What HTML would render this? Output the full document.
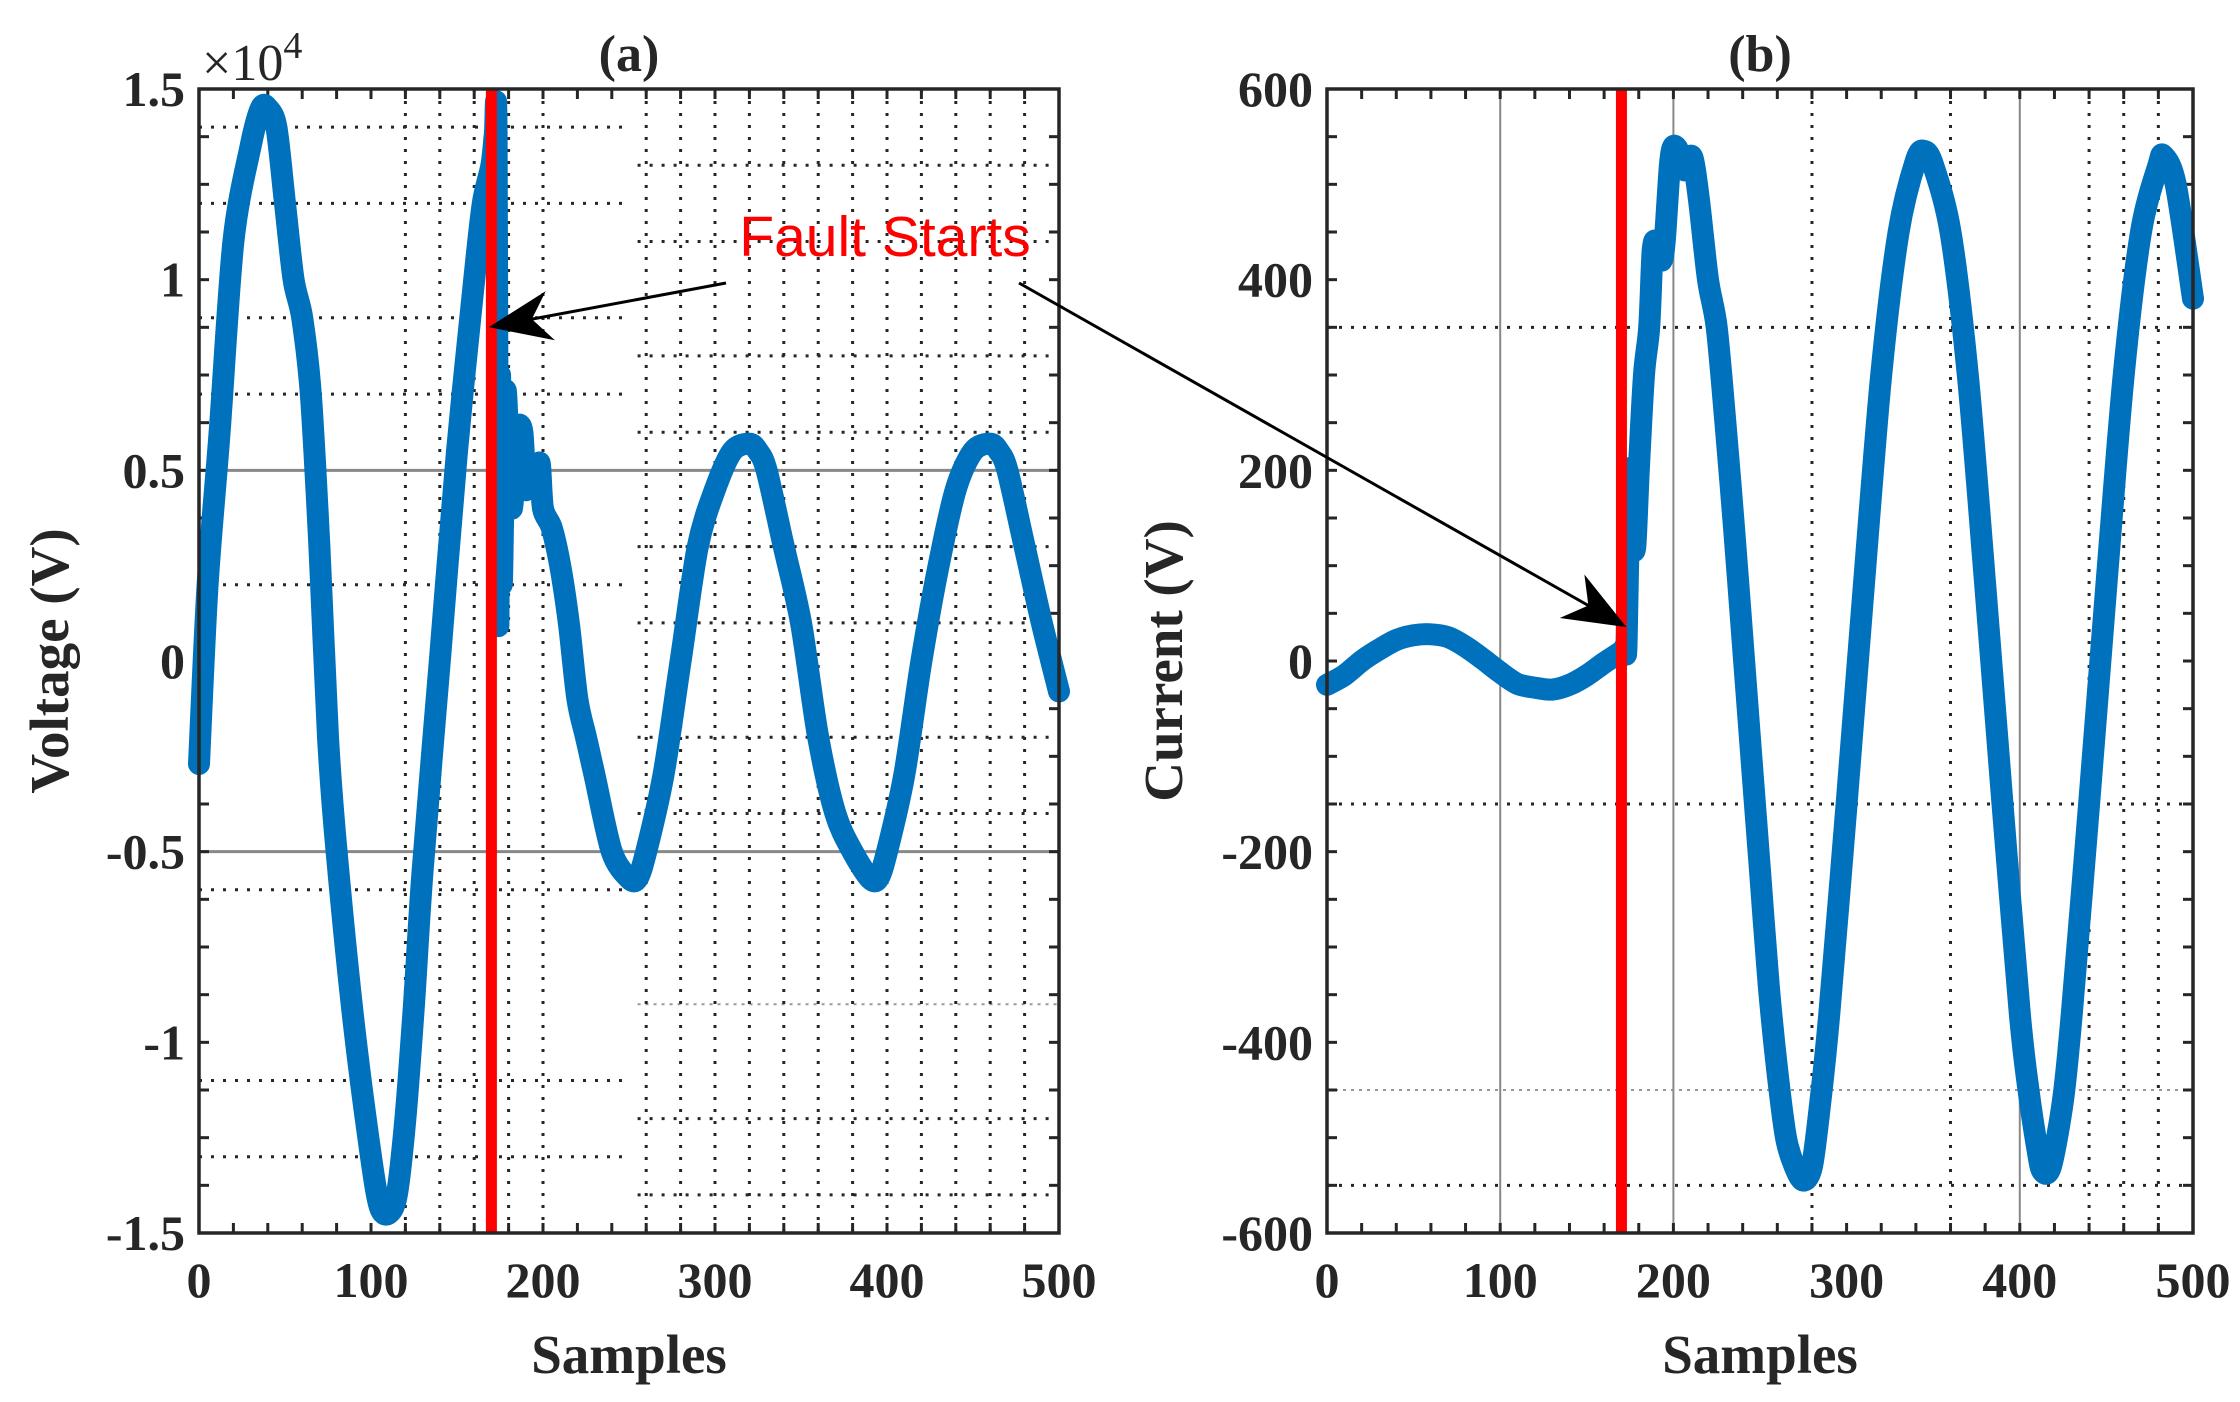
<!DOCTYPE html>
<html><head><meta charset="utf-8"><style>
html,body{margin:0;padding:0;background:#fff}
svg{display:block}
text{font-family:"Liberation Serif",serif;font-weight:bold;fill:#262626}
</style></head><body>
<svg id="chart" width="2240" height="1402" viewBox="0 0 2240 1402" xmlns="http://www.w3.org/2000/svg">
<g id="pa"></g>
<g id="pb"></g>
<g id="ann">
 <text x="885" y="256" text-anchor="middle" style="font-family:'Liberation Sans',sans-serif;font-weight:normal;font-size:57px;fill:#ff0000">Fault Starts</text>
</g>
</svg>
<script>
const NS="http://www.w3.org/2000/svg";
// Panel (a) voltage data (x1e4)
const vSamples=[0,5,12,20,30,36,40,45,50,55,60,65,70,75,80,90,100,105,110,115,120,125,130,140,150,160,165,170,172,173,174,175,176,178,180,182,185,188,190,192,195,198,200,205,210,215,220,225,230,240,250,255,260,270,280,290,300,310,320,325,330,340,350,360,370,380,390,395,400,410,420,430,440,450,460,465,470,480,490,500];
const vValues=[-0.27,0.2,0.6,1.1,1.35,1.45,1.45,1.4,1.2,1.0,0.9,0.7,0.3,-0.2,-0.5,-0.95,-1.3,-1.43,-1.45,-1.4,-1.2,-0.9,-0.55,0.0,0.55,1.0,1.2,1.3,1.38,1.38,0.1,0.75,0.2,0.7,0.55,0.4,0.6,0.6,0.45,0.5,0.45,0.52,0.4,0.35,0.25,0.1,-0.1,-0.2,-0.3,-0.5,-0.57,-0.57,-0.5,-0.3,0.0,0.3,0.45,0.55,0.57,0.55,0.5,0.3,0.1,-0.2,-0.4,-0.5,-0.57,-0.57,-0.5,-0.3,0.0,0.25,0.45,0.55,0.57,0.55,0.5,0.3,0.1,-0.08];
// Panel (b) current data
const cSamples=[0,10,20,30,40,50,60,70,80,90,100,110,120,130,140,150,160,170,172,173,175,176,178,180,183,186,188,190,193,195,198,200,203,205,207,210,212,215,220,225,230,235,240,245,250,255,260,265,270,275,280,285,290,300,310,320,330,340,345,350,360,370,380,390,400,405,410,413,418,425,430,440,450,460,470,480,483,490,500];
const cValues=[-25,-15,0,12,22,27,28,25,15,2,-12,-24,-28,-30,-25,-15,-2,10,15,20,200,130,120,200,300,350,430,440,420,440,520,540,535,520,515,530,520,480,400,350,250,140,20,-100,-220,-340,-430,-500,-530,-545,-530,-460,-370,-150,80,300,450,525,535,520,450,300,80,-150,-370,-450,-510,-535,-530,-460,-370,-150,80,300,450,520,530,500,380];
const faultSample=170;
// axis ticks
const xTicks=[0,100,200,300,400,500];
const vTicks=[-1.5,-1,-0.5,0,0.5,1,1.5];
const vTickLabels=["-1.5","-1","-0.5","0","0.5","1","1.5"];
const cTicks=[-600,-400,-200,0,200,400,600];
const cTickLabels=["-600","-400","-200","0","200","400","600"];

function el(tag,attrs,parent,name){const e=document.createElementNS(NS,tag);for(const k in attrs)e.setAttribute(k,attrs[k]);
 
 
 parent.appendChild(e);return e;}

function smoothPath(P){
 let d='M'+P[0][0].toFixed(1)+','+P[0][1].toFixed(1);
 for(let i=0;i<P.length-1;i++){
  const p0=P[Math.max(0,i-1)],p1=P[i],p2=P[i+1],p3=P[Math.min(P.length-1,i+2)];
  const t=0.15;
  const c1=[p1[0]+(p2[0]-p0[0])*t,p1[1]+(p2[1]-p0[1])*t];
  const c2=[p2[0]-(p3[0]-p1[0])*t,p2[1]-(p3[1]-p1[1])*t];
  d+='C'+c1[0].toFixed(1)+','+c1[1].toFixed(1)+' '+c2[0].toFixed(1)+','+c2[1].toFixed(1)+' '+p2[0].toFixed(1)+','+p2[1].toFixed(1);
 }
 return d;
}

function panel(g,L,R,T,B,ymin,ymax,xs,ys,yt,ytl,title,ylabel,ylx,grid){
 const X=v=>L+(v-0)/500*(R-L);
 const Y=v=>B-(v-ymin)/(ymax-ymin)*(B-T);
 el('rect',{x:L,y:T,width:R-L,height:B-T,fill:'#fff'},g,'plot-area');
 grid(X,Y,L,R,T,B);
 for(let s=0;s<=500;s+=20){el('line',{x1:X(s),x2:X(s),y1:B,y2:B-10,stroke:'#262626','stroke-width':3},g,'x-minor-tick');el('line',{x1:X(s),x2:X(s),y1:T,y2:T+10,stroke:'#262626','stroke-width':3},g,'x-minor-tick');}
 for(let i=0;i<=24;i++){const yy=B-i*(B-T)/24;el('line',{x1:L,x2:L+10,y1:yy,y2:yy,stroke:'#262626','stroke-width':3},g,'y-minor-tick');el('line',{x1:R,x2:R-10,y1:yy,y2:yy,stroke:'#262626','stroke-width':3},g,'y-minor-tick');}
 const P=xs.map((s,i)=>[X(s),Y(ys[i])]);
 el('path',{d:smoothPath(P),fill:'none',stroke:'#0072BD','stroke-width':22,'stroke-linejoin':'round','stroke-linecap':'round'},g,'signal-line');
 el('line',{x1:X(faultSample),x2:X(faultSample),y1:T,y2:B,stroke:'#ff0000','stroke-width':11},g,'fault-marker-line');
 el('rect',{x:L,y:T,width:R-L,height:B-T,fill:'none',stroke:'#262626','stroke-width':3.5},g,'axes-box');
 xTicks.forEach(t=>{const tx=el('text',{x:X(t),y:B+64,'text-anchor':'middle','font-size':50},g,'x-tick-label');tx.textContent=t;});
 yt.forEach((t,i)=>{const tx=el('text',{x:L-14,y:Y(t)+17,'text-anchor':'end','font-size':50},g,'y-tick-label');tx.textContent=ytl[i];});
 const xl=el('text',{x:(L+R)/2,y:B+140,'text-anchor':'middle','font-size':55},g,'x-axis-title');xl.textContent='Samples';
 const tl=el('text',{x:(L+R)/2,y:T-18,'text-anchor':'middle','font-size':52},g,'panel-title');tl.textContent=title;
 const cy=(T+B)/2;const yl=el('text',{x:0,y:0,'text-anchor':'middle','font-size':55,transform:'translate('+ylx+','+cy+') rotate(-90)'},g,'y-axis-title');yl.textContent=ylabel;
 return {X,Y};
}
const dot={stroke:'#262626','stroke-width':3,'stroke-dasharray':'3,9'};
function hl(g,x1,x2,y,st){el('line',Object.assign({x1,x2,y1:y,y2:y},st),g,'grid-line');}
function vl(g,x,y1,y2,st){el('line',Object.assign({x1:x,x2:x,y1,y2},st),g,'grid-line');}
const ga=document.getElementById('pa');
panel(ga,199,1059,89,1233,-1.5,1.5,vSamples,vValues,vTicks,vTickLabels,'(a)','Voltage (V)',68,(X,Y,L,R,T,B)=>{
 [1.4,1.2,0.9,0.7,0.2,-0.6,-1.1,-1.3].forEach(v=>hl(ga,L,X(250),Y(v),dot));
 [1.3,1.1,0.8,0.6,0.3,0.1,-0.2,-0.4,-1.2,-1.4].forEach(v=>hl(ga,X(255),R,Y(v),dot));
 hl(ga,X(255),R,Y(-0.9),{stroke:'#999','stroke-width':2,'stroke-dasharray':'3,5'});
 [0.5,-0.5].forEach(v=>hl(ga,L,R,Y(v),{stroke:'#888','stroke-width':3}));
 [120,140,160,180,200,260,280,300,320,340,360,380,400,420,440,460,480].forEach(s=>vl(ga,X(s),T,B,dot));
});
const e10=document.createElementNS(NS,'text');e10.setAttribute('x',202);e10.setAttribute('y',80);e10.setAttribute('font-size',52);e10.setAttribute('style','font-weight:normal');


e10.innerHTML='×10<tspan dy="-22" font-size="38">4</tspan>';ga.appendChild(e10);
const gb=document.getElementById('pb');
panel(gb,1327,2193,89,1233,-600,600,cSamples,cValues,cTicks,cTickLabels,'(b)','Current (V)',1182,(X,Y,L,R,T,B)=>{
 [350,-150,-550].forEach(v=>hl(gb,L,R,Y(v),dot));
 hl(gb,L,R,Y(-450),{stroke:'#999','stroke-width':2,'stroke-dasharray':'3,5'});
 [100,200,400].forEach(s=>vl(gb,X(s),T,B,{stroke:'#888','stroke-width':2}));
 [280,360,440,460,480].forEach(s=>vl(gb,X(s),T,B,dot));
});
const ann=document.getElementById('ann');
const defs=el('defs',{},ann,'arrow-defs');
const m=el('marker',{id:'ah',markerWidth:70,markerHeight:50,refX:9,refY:4,orient:'auto',markerUnits:'userSpaceOnUse',viewBox:'0 0 10 8'},defs,'arrowhead');
el('path',{d:'M0,0 L10,4 L0,8 L3,4 Z',fill:'#000'},m,'arrowhead-shape');
el('line',{x1:726,y1:283,x2:495,y2:326,stroke:'#000','stroke-width':3,'marker-end':'url(#ah)'},ann,'arrow-to-voltage');
el('line',{x1:1019,y1:283,x2:1621,y2:624,stroke:'#000','stroke-width':3,'marker-end':'url(#ah)'},ann,'arrow-to-current');
</script>
</body></html>
